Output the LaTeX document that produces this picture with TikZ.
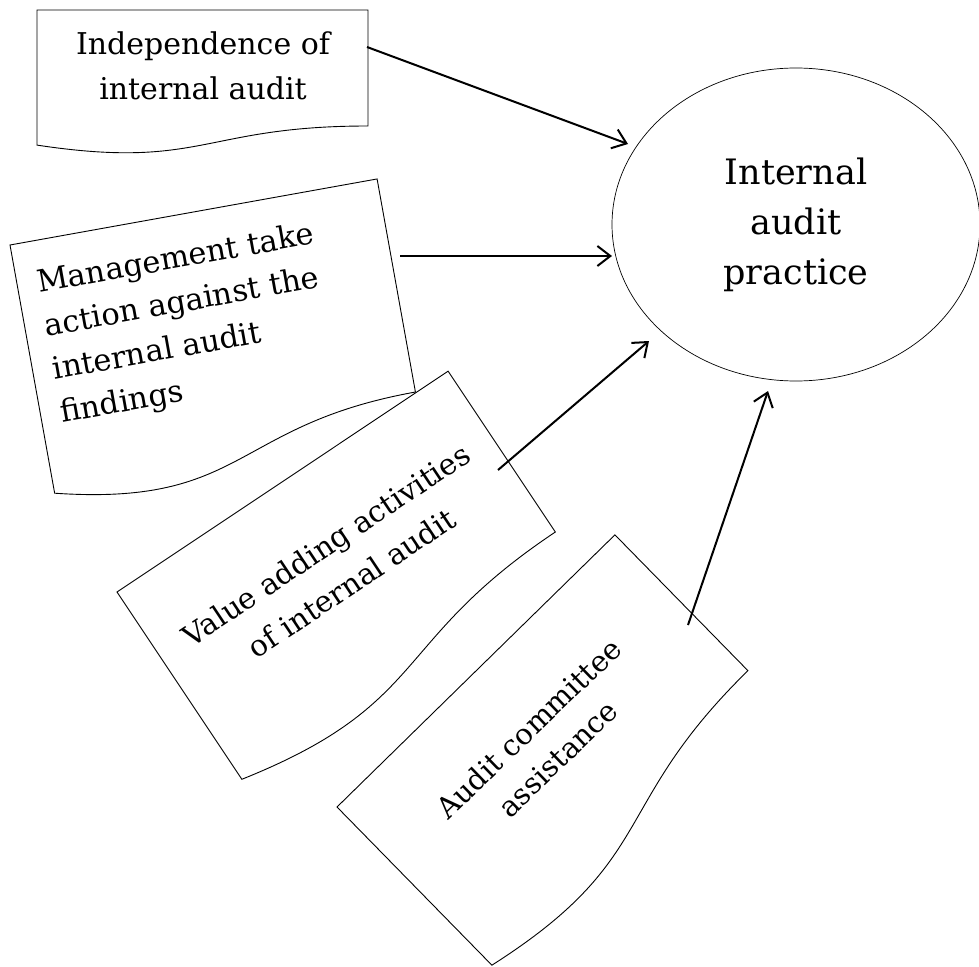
\documentclass[tikz,border=0pt]{standalone}
\usepackage{fontspec}
\setmainfont{DejaVu Serif}
\usetikzlibrary{arrows.meta,shapes.geometric}
\tikzset{
  docbox/.style={draw=black,line width=0.9pt,line join=miter},
  arr/.style={line width=2pt,-{Straight Barb[length=13pt,width=20pt]}},
  boxtext/.style={inner sep=0pt,font=\fontsize{30}{45}\selectfont},
}
\begin{document}
\begin{tikzpicture}[x=1pt,y=-1pt]
\useasboundingbox (0,0) rectangle (979,966);
% Box 1
\begin{scope}[shift={(37,10)}]
  \draw[docbox] (0,0) -- (331,0) -- (331,116.0) .. controls (165.5,116.0) and (165.5,160.1) .. (0,135.1) -- cycle;
\end{scope}
\node[boxtext,anchor=base] (t1) at (203,55) {\begin{tabular}[t]{@{}c@{}}Independence of\\internal audit\end{tabular}};
% Box 2
\begin{scope}[shift={(10,245)},rotate=10.2]
  \draw[docbox] (0,0) -- (373,0) -- (373,216.5) .. controls (186.5,216.5) and (186.5,299.0) .. (0,252.2) -- cycle;
\end{scope}
\node[boxtext,anchor=base west,rotate=10.2,font=\fontsize{30.5}{44}\selectfont] (t2) at (39,293) {\begin{tabular}[t]{@{}l@{}}Management take\\action against the\\internal audit\\findings\end{tabular}};
% Box 3
\begin{scope}[shift={(117,592)},rotate=33.7]
  \draw[docbox] (0,0) -- (398,0) -- (398,193.3) .. controls (199,193.3) and (199,266.9) .. (0,225.1) -- cycle;
\end{scope}
\node[boxtext,anchor=base,rotate=33.7,font=\fontsize{29.5}{46}\selectfont] (t3) at (332,554) {\begin{tabular}[t]{@{}c@{}}Value adding activities\\of internal audit\end{tabular}};
% Box 4
\begin{scope}[shift={(337,807)},rotate=44.4]
  \draw[docbox] (0,0) -- (389,0) -- (389,190.1) .. controls (194.5,190.1) and (194.5,262.5) .. (0,221.4) -- cycle;
\end{scope}
\node[boxtext,anchor=base,rotate=44,font=\fontsize{29}{42}\selectfont] (t4) at (536,736) {\begin{tabular}[t]{@{}c@{}}Audit committee\\assistance\end{tabular}};
% Ellipse
\node[ellipse,draw=black,line width=0.7pt,minimum width=368pt,minimum height=313pt,inner sep=0pt,align=center,font=\fontsize{35}{50}\selectfont] (E) at (796,224.5) {Internal\\audit\\practice};
% Arrows
\coordinate (a1s) at (367,47);  \coordinate (a1e) at (628,144);
\coordinate (a2s) at (400,256); \coordinate (a2e) at (612,256);
\coordinate (a3s) at (498,470); \coordinate (a3e) at (649,341);
\coordinate (a4s) at (688,625); \coordinate (a4e) at (768,391);
\draw[arr] (a1s) -- (a1e);
\draw[arr] (a2s) -- (a2e);
\draw[arr] (a3s) -- (a3e);
\draw[arr] (a4s) -- (a4e);
\end{tikzpicture}
\end{document}
